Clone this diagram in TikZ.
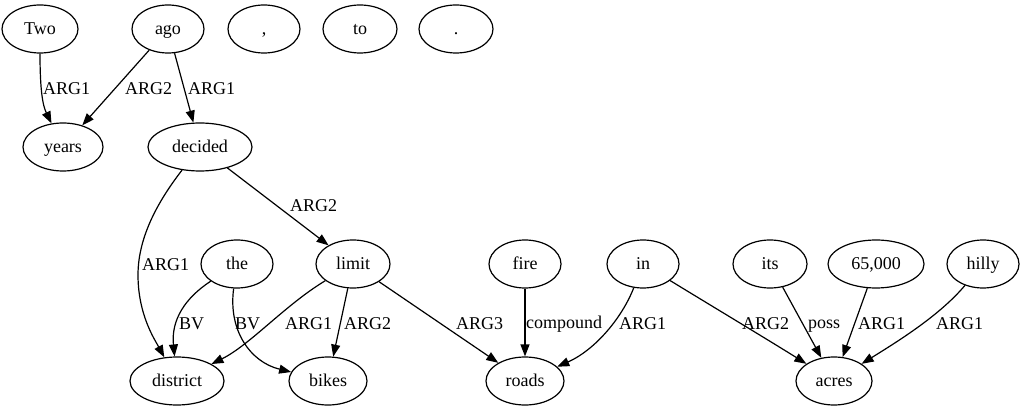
\documentclass[tikz,border=0pt]{standalone}
\usepackage{fontspec}
\setmainfont{Liberation Serif}
\usetikzlibrary{shapes.geometric,arrows.meta}
\begin{document}
\begin{tikzpicture}[x=1pt,y=-1pt,
  nd/.style={draw, ellipse, line width=1.2pt, minimum height=48pt, inner sep=0pt,
    text height=15pt, text depth=4pt, font=\fontsize{18}{22}\selectfont},
  edge/.style={draw, line width=1.2pt, -{Triangle[length=12pt,width=9pt]}},
  lbl/.style={anchor=base west, inner sep=0pt, font=\fontsize{18}{22}\selectfont}]
\useasboundingbox (0,0) rectangle (1024,411);
% row 1
\node[nd, minimum width=76pt] (Two) at (40,29) {Two};
\node[nd, minimum width=72pt] (ago) at (168,29) {ago};
\node[nd, minimum width=72pt] (comma) at (264,29) {,};
\node[nd, minimum width=74pt] (to) at (360,29) {to};
\node[nd, minimum width=74pt] (dot) at (456,29) {.};
% row 2
\node[nd, minimum width=80pt] (years) at (63,147) {years};
\node[nd, minimum width=104pt] (decided) at (200,147) {decided};
% row 3
\node[nd, minimum width=72pt] (the) at (237,264) {the};
\node[nd, minimum width=74pt] (limit) at (353,264) {limit};
\node[nd, minimum width=72pt] (fire) at (525,264) {fire};
\node[nd, minimum width=72pt] (in) at (643,264) {in};
\node[nd, minimum width=74pt] (its) at (770,264) {its};
\node[nd, minimum width=96pt] (n65) at (876,264) {65,000};
\node[nd, minimum width=72pt] (hilly) at (983,264) {hilly};
% row 4
\node[nd, minimum width=94pt] (district) at (177,381) {district};
\node[nd, minimum width=78pt] (bikes) at (328,381) {bikes};
\node[nd, minimum width=78pt] (roads) at (525,381) {roads};
\node[nd, minimum width=76pt] (acres) at (834,381) {acres};
% edges
\draw[edge] (Two) .. controls (40,92) and (43,106) .. (years);
\draw[edge] (ago) -- (years);
\draw[edge] (ago) -- (decided);
\draw[edge] (decided) .. controls (155,205) and (138,240) .. (138,275) .. controls (138,315) and (155,340) .. (district);
\draw[edge] (decided) -- (limit);
\draw[edge] (the) .. controls (185,298) and (171,320) .. (district);
\draw[edge] (the) .. controls (228,330) and (250,362) .. (bikes);
\draw[edge] (limit) .. controls (285,305) and (250,345) .. (district);
\draw[edge] (limit) -- (bikes);
\draw[edge] (limit) -- (roads);
\draw[edge] (fire) -- (roads);
\draw[edge] (in) .. controls (622,318) and (595,350) .. (roads);
\draw[edge] (in) .. controls (715,308) and (765,338) .. (acres);
\draw[edge] (its) -- (acres);
\draw[edge] (n65) -- (acres);
\draw[edge] (hilly) .. controls (940,315) and (900,340) .. (acres);
% labels
\node[lbl] (l1) at (43,94.5) {ARG1};
\node[lbl] (l2) at (125,94.5) {ARG2};
\node[lbl] (l3) at (188,94.5) {ARG1};
\node[lbl] (l4) at (142,270.5) {ARG1};
\node[lbl] (l5) at (290,211.5) {ARG2};
\node[lbl] (l6) at (179,329.5) {BV};
\node[lbl] (l7) at (235,329.5) {BV};
\node[lbl] (l8) at (285,329.5) {ARG1};
\node[lbl] (l9) at (344,329.5) {ARG2};
\node[lbl] (l10) at (456,329.5) {ARG3};
\node[lbl] (l11) at (526,328.5) {compound};
\node[lbl] (l12) at (619,329.5) {ARG1};
\node[lbl] (l13) at (742,329.5) {ARG2};
\node[lbl] (l14) at (808,328.5) {poss};
\node[lbl] (l15) at (858,329.5) {ARG1};
\node[lbl] (l16) at (936,329.5) {ARG1};
\end{tikzpicture}
\end{document}
